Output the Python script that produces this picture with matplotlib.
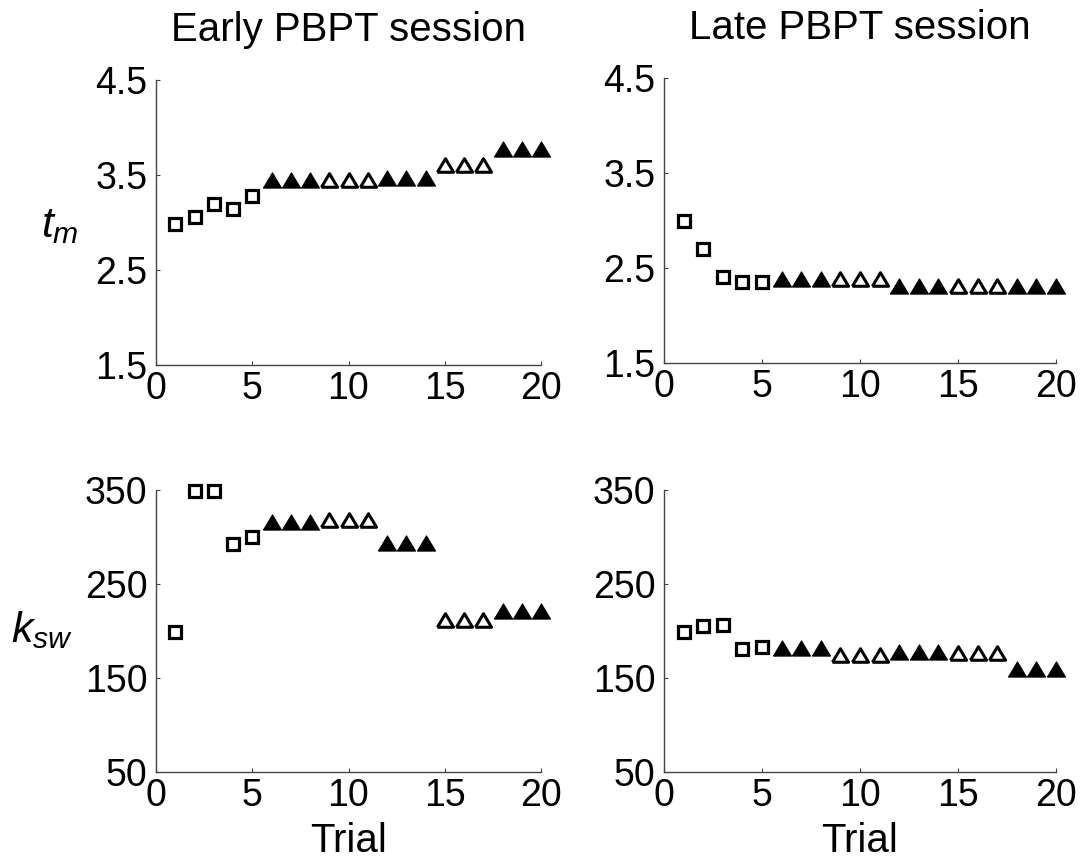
import matplotlib
matplotlib.use("Agg")
import matplotlib.pyplot as plt
import numpy as np

plt.rcParams['font.family'] = ['Liberation Sans', 'DejaVu Sans']
plt.rcParams['mathtext.fontset'] = 'custom'
plt.rcParams['mathtext.it'] = 'Liberation Sans:italic'
plt.rcParams['mathtext.rm'] = 'Liberation Sans'

# ---- data ----
trials = list(range(1, 21))
# marker kind per trial: 's' = open square, 'f' = filled triangle, 'o' = open triangle
kinds = ['s'] * 5 + ['f'] * 3 + ['o'] * 3 + ['f'] * 3 + ['o'] * 3 + ['f'] * 3

tm_early = [2.98, 3.06, 3.19, 3.14, 3.28,
            3.45, 3.45, 3.45, 3.45, 3.45, 3.45,
            3.47, 3.47, 3.47, 3.61, 3.61, 3.61, 3.77, 3.77, 3.77]
tm_late = [2.99, 2.70, 2.41, 2.35, 2.35,
           2.38, 2.38, 2.38, 2.38, 2.38, 2.38,
           2.31, 2.31, 2.31, 2.31, 2.31, 2.31, 2.31, 2.31, 2.31]
ksw_early = [199, 349, 349, 293, 300,
             316, 316, 316, 318, 318, 318,
             294, 294, 294, 212, 212, 212, 221, 221, 221]
ksw_late = [199, 205, 206, 181, 183,
            182, 182, 182, 174, 174, 174,
            178, 178, 178, 177, 177, 177, 160, 160, 160]

titles = ["Early PBPT session", "Late PBPT session"]
tm_ticks = [1.5, 2.5, 3.5, 4.5]
ksw_ticks = [50, 150, 250, 350]
x_ticks = [0, 5, 10, 15, 20]

# ---- style ----
tri = [(-1, -0.84), (1, -0.84), (0, 0.84), (-1, -0.84)]

fig = plt.figure(figsize=(10.82, 8.59), dpi=100)
W, H = 1082, 859

def px_axes(l, r, t, b):
    return fig.add_axes([l / W, 1 - b / H, (r - l) / W, (b - t) / H])

axes = {
    'tl': px_axes(156, 541, 80, 365),
    'tr': px_axes(664, 1056, 78, 363),
    'bl': px_axes(156, 541, 490, 772),
    'br': px_axes(664, 1056, 490, 772),
}

def draw(ax, vals):
    x = np.array(trials)
    v = np.array(vals, dtype=float)
    k = np.array(kinds)
    m = k == 's'
    ax.plot(x[m], v[m], linestyle='none', marker='s', ms=8.6, mew=2.3,
            mfc='white', mec='black', clip_on=False, zorder=3)
    m = k == 'f'
    ax.plot(x[m], v[m], linestyle='none', marker=tri, ms=13.0, mew=0.8,
            mfc='black', mec='black', clip_on=False, zorder=3)
    m = k == 'o'
    ax.plot(x[m], v[m], linestyle='none', marker=tri, ms=11.6, mew=2.2,
            mfc='white', mec='black', clip_on=False, zorder=3)

def style(ax, yticks):
    ax.set_xlim(0, 20)
    ax.set_ylim(yticks[0], yticks[-1])
    ax.set_xticks(x_ticks)
    ax.set_yticks(yticks)
    ax.set_yticklabels([str(t) for t in yticks])
    for s in ['top', 'right']:
        ax.spines[s].set_visible(False)
    for s in ['left', 'bottom']:
        ax.spines[s].set_color('#444444')
        ax.spines[s].set_linewidth(1.0)
    ax.tick_params(direction='in', length=3, width=0.8, color='#444444',
                   labelsize=27)
    ax.tick_params(axis='x', pad=4)
    ax.tick_params(axis='y', pad=6)

draw(axes['tl'], tm_early)
draw(axes['tr'], tm_late)
draw(axes['bl'], ksw_early)
draw(axes['br'], ksw_late)
for key in ['tl', 'tr']:
    style(axes[key], tm_ticks)
for key in ['bl', 'br']:
    style(axes[key], ksw_ticks)

axes['tl'].set_title(titles[0], fontsize=29, pad=28)
axes['tr'].set_title(titles[1], fontsize=29, pad=28)
axes['bl'].set_xlabel("Trial", fontsize=29, labelpad=6)
axes['br'].set_xlabel("Trial", fontsize=29, labelpad=6)

fig.text(60 / W, 1 - 226 / H, r'$t_m$', fontsize=31, ha='center', va='center')
fig.text(42 / W, 1 - 630 / H, r'$k_{sw}$', fontsize=31, ha='center', va='center')

fig.savefig('out.png', dpi=100, facecolor='white')
